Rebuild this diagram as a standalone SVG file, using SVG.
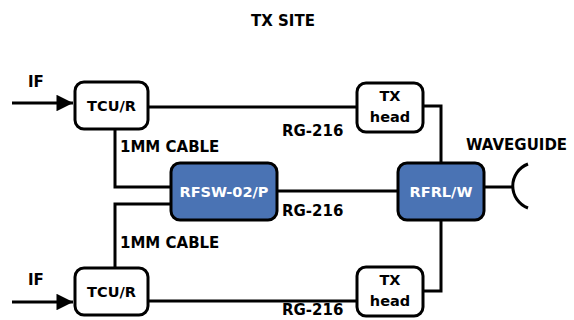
<svg xmlns="http://www.w3.org/2000/svg" width="574" height="320" viewBox="0 0 574 320">
<defs>
<style>
text{font-family:"DejaVu Sans","Liberation Sans",sans-serif;font-weight:bold;fill:#000;}
.lbl{font-size:15px;}
.nt{font-size:14.5px;text-anchor:middle;}
.w{fill:#fff;}
.box{fill:#fff;stroke:#000;stroke-width:3;}
.blue{fill:#4a73b4;stroke:#000;stroke-width:3;}
.ln{fill:none;stroke:#000;stroke-width:3;}
</style>
<marker id="arr" viewBox="0 0 10 10" refX="10" refY="5" markerWidth="6" markerHeight="5.5" markerUnits="strokeWidth" orient="auto">
<path d="M0,0 L10,5 L0,10 Z" fill="#000"/>
</marker>
</defs>
<rect width="574" height="320" fill="#fff"/>
<text class="lbl" x="283" y="26" text-anchor="middle">TX SITE</text>
<g id="connectors">
<line class="ln" x1="12" y1="103" x2="73" y2="103" marker-end="url(#arr)"/>
<line class="ln" x1="12" y1="302" x2="73" y2="302" marker-end="url(#arr)"/>
<line class="ln" x1="148" y1="107" x2="357" y2="107"/>
<line class="ln" x1="148" y1="301" x2="357" y2="301"/>
<polyline class="ln" points="115,129 115,187 171,187"/>
<polyline class="ln" points="115,267 115,204 171,204"/>
<line class="ln" x1="277" y1="191" x2="398" y2="191"/>
<polyline class="ln" points="423,106 441,106 441,163"/>
<polyline class="ln" points="423,291 441,291 441,220"/>
<line class="ln" x1="484" y1="187" x2="513" y2="187"/>
<path class="ln" d="M528,164 A23.5,23.5 0 0 0 528,208"/>
</g>
<g id="tcu-top">
<rect class="box" x="75" y="82" width="73" height="47" rx="9"/>
<text class="nt" x="111.5" y="111">TCU/R</text>
</g>
<g id="tcu-bottom">
<rect class="box" x="75" y="268" width="73" height="47" rx="9"/>
<text class="nt" x="111.5" y="297">TCU/R</text>
</g>
<g id="txhead-top">
<rect class="box" x="357" y="83" width="66" height="49" rx="9"/>
<text class="nt" x="390" y="101">TX</text>
<text class="nt" x="390" y="122">head</text>
</g>
<g id="txhead-bottom">
<rect class="box" x="357" y="267" width="66" height="49" rx="9"/>
<text class="nt" x="390" y="285">TX</text>
<text class="nt" x="390" y="306">head</text>
</g>
<g id="rfsw">
<rect class="blue" x="171" y="163" width="106" height="57" rx="9"/>
<text class="nt w" x="224" y="197">RFSW-02/P</text>
</g>
<g id="rfrl">
<rect class="blue" x="398" y="163" width="86" height="57" rx="9"/>
<text class="nt w" x="441" y="197">RFRL/W</text>
</g>
<g id="labels">
<text class="lbl" x="28" y="87">IF</text>
<text class="lbl" x="28" y="285">IF</text>
<text class="lbl" x="120" y="152">1MM CABLE</text>
<text class="lbl" x="120" y="248">1MM CABLE</text>
<text class="lbl" x="282" y="136">RG-216</text>
<text class="lbl" x="282" y="216">RG-216</text>
<text class="lbl" x="282" y="315">RG-216</text>
<text class="lbl" x="466" y="150">WAVEGUIDE</text>
</g>
</svg>
